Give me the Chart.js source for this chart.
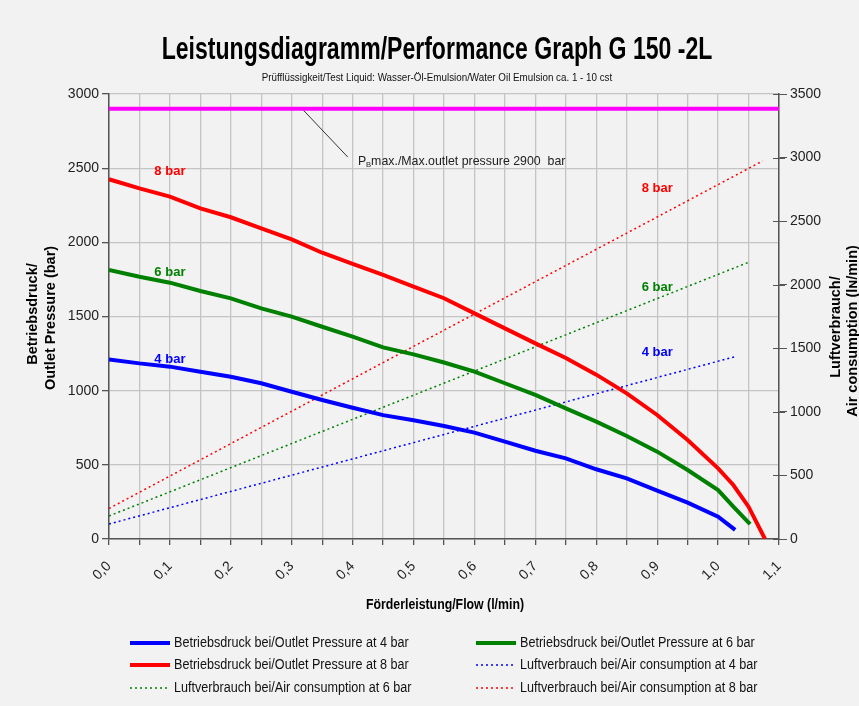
<!DOCTYPE html>
<html lang="de">

<head>
  <meta charset="UTF-8">
  <title>Leistungsdiagramm G 150 -2L</title>
  <style>
    body { margin: 0; background: #f2f2f2; }
    canvas { display: block; }
  </style>
</head>

<body>
  <canvas id="grafico" width="859" height="706"></canvas>
</body>

</html>
<script src="https://cdn.jsdelivr.net/npm/chart.js"></script>

<script>
  // Werte
  var flow4 = [0, 0.05, 0.1, 0.15, 0.2, 0.25, 0.3, 0.35, 0.4, 0.45, 0.5, 0.55, 0.6, 0.65, 0.7, 0.75, 0.8, 0.85, 0.9, 0.95, 1.0, 1.028];
  var press4 = [1211, 1184, 1162, 1128, 1094, 1050, 993, 937, 885, 835, 800, 762, 717, 656, 595, 544, 470, 409, 326, 245, 150, 61];

  var flow6 = [0, 0.05, 0.1, 0.15, 0.2, 0.25, 0.3, 0.35, 0.4, 0.45, 0.5, 0.55, 0.6, 0.65, 0.7, 0.75, 0.8, 0.85, 0.9, 0.95, 1.0, 1.025, 1.0525];
  var press6 = [1813, 1768, 1728, 1672, 1622, 1555, 1499, 1431, 1364, 1292, 1245, 1190, 1128, 1050, 971, 881, 791, 694, 589, 465, 330, 218, 101];

  var flow8 = [0, 0.05, 0.1, 0.15, 0.2, 0.25, 0.3, 0.35, 0.4, 0.45, 0.5, 0.55, 0.6, 0.65, 0.7, 0.75, 0.8, 0.85, 0.9, 0.95, 1.0, 1.025, 1.05, 1.077];
  var press8 = [2425, 2364, 2308, 2229, 2169, 2094, 2020, 1930, 1854, 1780, 1701, 1623, 1521, 1420, 1319, 1220, 1108, 982, 836, 667, 476, 364, 218, 0];

  // Luftverbrauch (rechte Achse)
  var airFlow4 = [0, 0.5, 1.028];
  var air4 = [118, 758, 1434];
  var airFlow6 = [0, 0.5, 1.0525];
  var air6 = [181, 1131, 2181];
  var airFlow8 = [0, 0.5, 1.073];
  var air8 = [240, 1515, 2973];

  var maxFlow = [0, 1.1];
  var maxPress = [2900, 2900];
  var leaderFlow = [0.317, 0.392];
  var leaderPress = [2900, 2575];

  var xTicksMin = 0, xTicksMax = 1.1;
  var yLeftMax = 3000, yRightMax = 3500;

  // Beschriftungen "x bar" an den Kurven (Flow, Druck)
  var barLabels = [
    { text: '8 bar', x: 0.1, y: 2480, color: '#ff0000' },
    { text: '6 bar', x: 0.1, y: 1800, color: '#008000' },
    { text: '4 bar', x: 0.1, y: 1213, color: '#0000ff' },
    { text: '8 bar', x: 0.9, y: 2366, color: '#ff0000' },
    { text: '6 bar', x: 0.9, y: 1699, color: '#008000' },
    { text: '4 bar', x: 0.9, y: 1261, color: '#0000ff' }
  ];
  var noteFlow = 0.409, notePress = 2545;

  function pts(xs, ys) {
    var out = [];
    for (var i = 0; i < xs.length; i++) out.push({ x: xs[i], y: ys[i] });
    return out;
  }

  var FONT = "'Liberation Sans Narrow', 'Liberation Sans', Arial, sans-serif";

  // sq < 1 -> Schrift schmaler (wie Arial Narrow)
  function txt(ctx, s, x, y, font, color, align, sq, rot) {
    ctx.save();
    ctx.translate(x, y);
    if (rot) ctx.rotate(rot);
    ctx.scale(sq || 1, 1);
    ctx.font = font;
    ctx.fillStyle = color;
    ctx.textAlign = align || 'left';
    ctx.textBaseline = 'middle';
    ctx.fillText(s, 0, 0);
    ctx.restore();
  }

  var extras = {
    id: 'extras',
    beforeDraw: function (chart) {
      var c = chart.ctx;
      c.save();
      c.fillStyle = '#f2f2f2';
      c.fillRect(0, 0, chart.width, chart.height);
      c.restore();
    },
    afterDraw: function (chart) {
      var c = chart.ctx;
      var xs = chart.scales.x, ys = chart.scales.y, yr = chart.scales.y1;

      txt(c, 'Leistungsdiagramm/Performance Graph G 150 -2L', 437, 50, 'bold 32px ' + FONT, '#000', 'center', 0.72);
      txt(c, 'Prüfflüssigkeit/Test Liquid: Wasser-Öl-Emulsion/Water Oil Emulsion ca. 1 - 10 cst', 437, 78, '10px ' + FONT, '#111', 'center', 0.98);

      // Achsentitel
      txt(c, 'Betriebsdruck/', 33, 314, 'bold 14.5px ' + FONT, '#000', 'center', 1, -Math.PI / 2);
      txt(c, 'Outlet Pressure (bar)', 51, 318, 'bold 14.5px ' + FONT, '#000', 'center', 1, -Math.PI / 2);
      txt(c, 'Luftverbrauch/', 836, 327, 'bold 14.5px ' + FONT, '#000', 'center', 1, -Math.PI / 2);
      txt(c, 'Air consumption (lɴ/min)', 853, 331, 'bold 14.5px ' + FONT, '#000', 'center', 1, -Math.PI / 2);
      txt(c, 'Förderleistung/Flow (l/min)', 445, 605, 'bold 14px ' + FONT, '#000', 'center', 0.88);

      // Teilstriche rechte Achse nach innen verlängern
      c.save();
      c.strokeStyle = '#555';
      c.lineWidth = 1;
      yr.ticks.forEach(function (t) {
        var py = Math.round(yr.getPixelForValue(t.value)) + 0.5;
        c.beginPath();
        c.moveTo(yr.left - 6, py);
        c.lineTo(yr.left + 6, py);
        c.stroke();
      });
      c.restore();

      // bar-Beschriftungen
      barLabels.forEach(function (b) {
        txt(c, b.text, xs.getPixelForValue(b.x), ys.getPixelForValue(b.y), 'bold 13px ' + FONT, b.color, 'center', 1);
      });

      // Hinweis max. Druck
      var nx = xs.getPixelForValue(noteFlow), ny = ys.getPixelForValue(notePress);
      txt(c, 'P', nx, ny, '13px ' + FONT, '#222', 'left', 0.95);
      txt(c, 'B', nx + 8, ny + 3, '8px ' + FONT, '#222', 'left', 0.95);
      txt(c, 'max./Max.outlet pressure 2900  bar', nx + 13, ny, '13px ' + FONT, '#222', 'left', 0.95);

      // Legende, 2 Spalten
      var cols = [130, 476], rows = [643, 665, 688];
      for (var i = 0; i < 6; i++) {
        var ds = chart.data.datasets[i];
        var lx = cols[i % 2], ly = rows[Math.floor(i / 2)];
        c.save();
        c.strokeStyle = ds.borderColor;
        c.lineWidth = ds.borderDash ? 1.5 : 4;
        c.setLineDash(ds.borderDash || []);
        c.beginPath();
        c.moveTo(lx, ly);
        c.lineTo(lx + 40, ly);
        c.stroke();
        c.restore();
        txt(c, ds.label, lx + 44, ly, '14px ' + FONT, '#111', 'left', 0.9);
      }
    }
  };

  var gridColor = '#c4c4c4';
  var tickFont = { family: FONT, size: 14 };
  var plain = function (v) { return String(v); };

  new Chart(document.getElementById('grafico'), {
    type: 'line',
    data: {
      datasets: [
        { label: 'Betriebsdruck bei/Outlet Pressure at 4 bar', data: pts(flow4, press4), borderColor: '#0000ff', borderWidth: 4, yAxisID: 'y' },
        { label: 'Betriebsdruck bei/Outlet Pressure at 6 bar', data: pts(flow6, press6), borderColor: '#008000', borderWidth: 4, yAxisID: 'y' },
        { label: 'Betriebsdruck bei/Outlet Pressure at 8 bar', data: pts(flow8, press8), borderColor: '#ff0000', borderWidth: 4, yAxisID: 'y' },
        { label: 'Luftverbrauch bei/Air consumption at 4 bar', data: pts(airFlow4, air4), borderColor: '#0000ff', borderWidth: 1.5, borderDash: [2, 3], yAxisID: 'y1' },
        { label: 'Luftverbrauch bei/Air consumption at 6 bar', data: pts(airFlow6, air6), borderColor: '#008000', borderWidth: 1.5, borderDash: [2, 3], yAxisID: 'y1' },
        { label: 'Luftverbrauch bei/Air consumption at 8 bar', data: pts(airFlow8, air8), borderColor: '#ff0000', borderWidth: 1.5, borderDash: [2, 3], yAxisID: 'y1' },
        { label: 'max', data: pts(maxFlow, maxPress), borderColor: '#ff00ff', borderWidth: 4, yAxisID: 'y' },
        { label: 'leader', data: pts(leaderFlow, leaderPress), borderColor: '#333333', borderWidth: 1, yAxisID: 'y' }
      ]
    },
    options: {
      responsive: false,
      animation: false,
      elements: { point: { radius: 0 }, line: { tension: 0, fill: false, borderCapStyle: 'butt' } },
      layout: { padding: { top: 94, left: 0, right: 0, bottom: 0 } },
      plugins: { legend: { display: false }, tooltip: { enabled: false }, title: { display: false } },
      scales: {
        x: {
          type: 'linear', position: 'bottom', min: xTicksMin, max: xTicksMax,
          afterFit: function (s) { s.height = 167; },
          ticks: {
            stepSize: 0.05, autoSkip: false, minRotation: 45, maxRotation: 45, padding: 13, color: '#222', font: tickFont,
            callback: function (v) {
              var k = Math.round(v * 100);
              return k % 10 === 0 ? (k / 100).toFixed(1).replace('.', ',') : '';
            }
          },
          grid: { color: gridColor, lineWidth: 1.3, tickLength: 6, tickColor: '#555' },
          border: { color: '#555', width: 1.5 }
        },
        y: {
          position: 'left', min: 0, max: yLeftMax,
          afterFit: function (s) { s.width = 109; },
          ticks: { stepSize: 500, color: '#222', font: tickFont, callback: plain },
          grid: { color: gridColor, lineWidth: 1.3, tickLength: 7, tickColor: '#555' },
          border: { color: '#555', width: 1.5 }
        },
        y1: {
          position: 'right', min: 0, max: yRightMax,
          afterFit: function (s) { s.width = 80; },
          ticks: { stepSize: 500, color: '#222', font: tickFont, callback: plain },
          grid: { drawOnChartArea: false, tickLength: 8, tickColor: '#555' },
          border: { color: '#555', width: 1.5 }
        }
      }
    },
    plugins: [extras]
  });
</script>
